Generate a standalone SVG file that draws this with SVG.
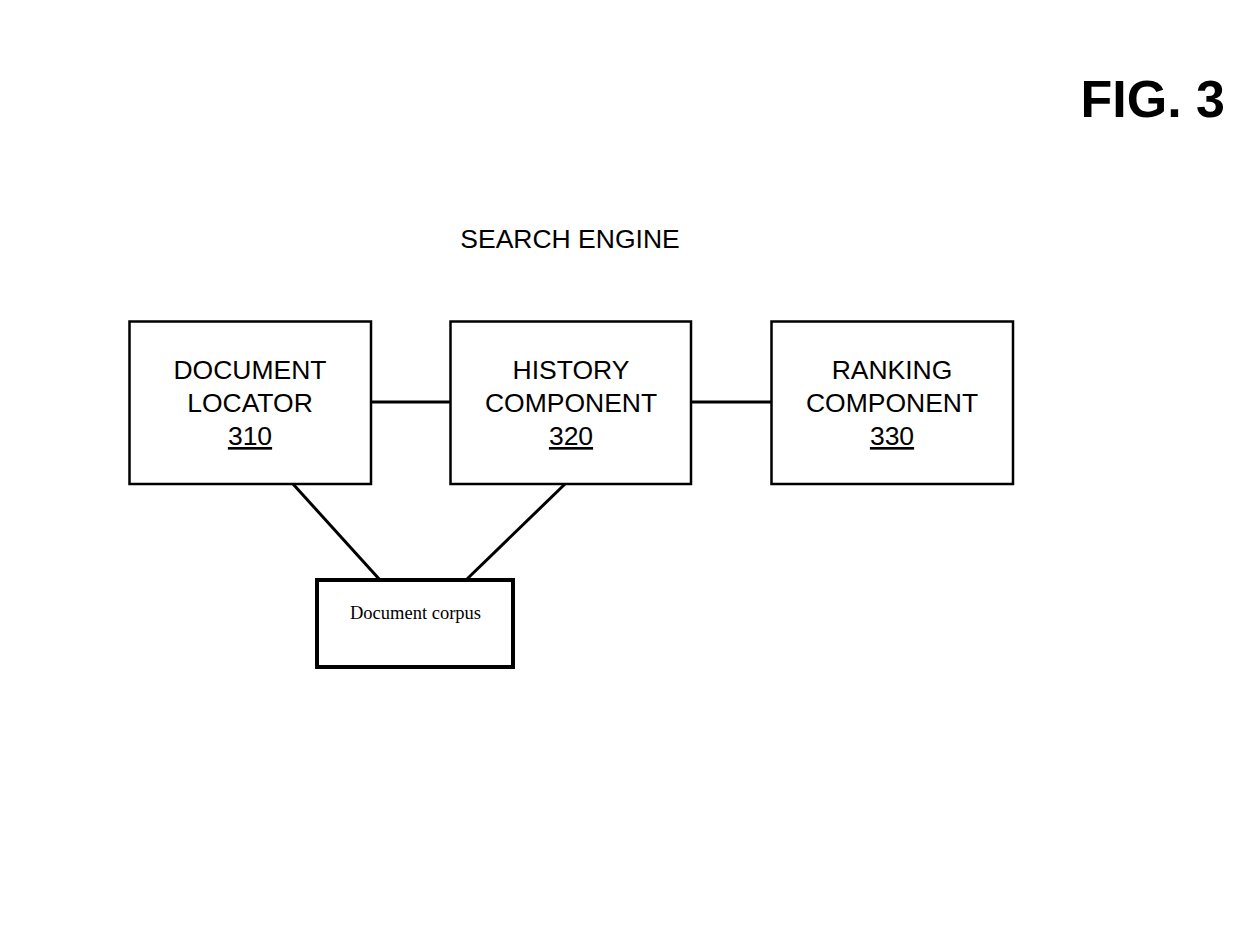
<svg xmlns="http://www.w3.org/2000/svg" width="1237" height="937" viewBox="0 0 1237 937">
<style>
.box{fill:#fff;stroke:#000;stroke-width:2.5}
.corpus{fill:#fff;stroke:#000;stroke-width:4}
.t{font-family:"Liberation Sans",Arial,sans-serif;font-size:26.5px;fill:#000;text-anchor:middle}
.u{text-decoration:underline}
.ln{stroke:#000;stroke-width:3;fill:none}
</style>
<rect width="1237" height="937" fill="#fff"/>
<text x="1225" y="117" font-family="Liberation Sans,Arial,sans-serif" font-weight="bold" font-size="52" text-anchor="end">FIG. 3</text>
<text class="t" x="570" y="248">SEARCH ENGINE</text>
<g id="connectors">
<line class="ln" x1="371" y1="402" x2="450" y2="402"/>
<line class="ln" x1="691" y1="402" x2="771" y2="402"/>
<line class="ln" x1="293" y1="484" x2="380" y2="580"/>
<line class="ln" x1="565" y1="484" x2="466" y2="580"/>
</g>
<g id="node310">
<rect class="box" x="129.5" y="321.5" width="241.5" height="162.5"/>
<text class="t" x="250" y="379">DOCUMENT</text>
<text class="t" x="250" y="412">LOCATOR</text>
<text class="t u" x="250" y="445">310</text>
</g>
<g id="node320">
<rect class="box" x="450.5" y="321.5" width="240.5" height="162.5"/>
<text class="t" x="571" y="379">HISTORY</text>
<text class="t" x="571" y="412">COMPONENT</text>
<text class="t u" x="571" y="445">320</text>
</g>
<g id="node330">
<rect class="box" x="771.5" y="321.5" width="241.5" height="162.5"/>
<text class="t" x="892" y="379">RANKING</text>
<text class="t" x="892" y="412">COMPONENT</text>
<text class="t u" x="892" y="445">330</text>
</g>
<g id="corpus">
<rect class="corpus" x="317" y="580" width="196" height="87"/>
<text x="415.5" y="619" font-family="Liberation Serif,Times New Roman,serif" font-size="18.5" text-anchor="middle">Document corpus</text>
</g>
</svg>
